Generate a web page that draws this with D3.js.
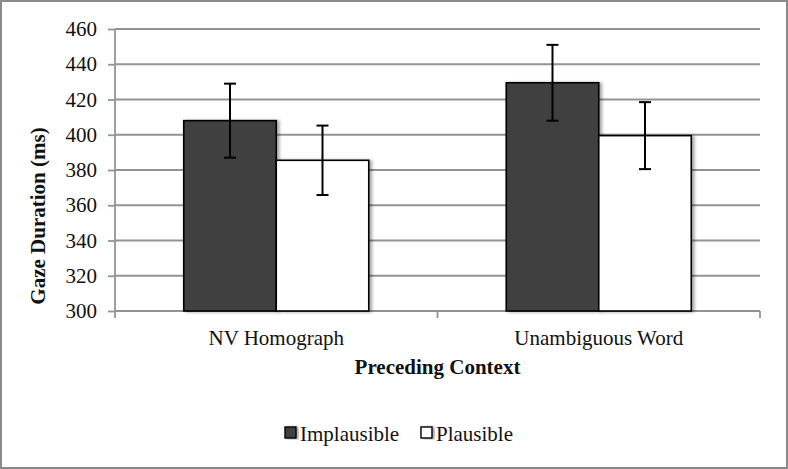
<!DOCTYPE html>
<html>
<head>
<meta charset="utf-8">
<script src="https://cdn.jsdelivr.net/npm/d3@7"></script>
<style>
  body { margin: 0; background: #fff; }
  svg { display: block; font-family: "Liberation Serif", "Times New Roman", serif; }
</style>
</head>
<body>
<svg id="chart" width="788" height="469"></svg>
<script>
let categories = ["NV Homograph", "Unambiguous Word"];
let series = ["Implausible", "Plausible"];
let implausible = [408, 429.5];
let plausible = [385.5, 399.5];
let implausibleErr = [21, 21.5];
let plausibleErr = [19.7, 19];
let yTicks = [300, 320, 340, 360, 380, 400, 420, 440, 460];

let colors = { Implausible: "#404040", Plausible: "#ffffff" };
let values = { Implausible: implausible, Plausible: plausible };
let errors = { Implausible: implausibleErr, Plausible: plausibleErr };

let plotLeft = 115, plotRight = 760, plotTop = 29, plotBottom = 311;

let svg = d3.select('#chart');

// outer frame
svg.append('rect')
    .attr('x', 1).attr('y', 1).attr('width', 786).attr('height', 467)
    .attr('fill', '#fff').attr('stroke', '#8a8a8a').attr('stroke-width', 2);

let defs = svg.append('defs');
defs.append('filter').attr('id', 'shadow')
    .attr('x', '-10%').attr('y', '-10%').attr('width', '130%').attr('height', '120%')
    .append('feDropShadow')
    .attr('dx', 2.5).attr('dy', 0.5).attr('stdDeviation', 1.5)
    .attr('flood-color', '#000').attr('flood-opacity', 0.35);

let y = d3.scaleLinear().domain([300, 460]).range([plotBottom, plotTop]);
let x0 = d3.scaleBand().domain(categories).range([plotLeft, plotRight]).padding(0);
let x1 = d3.scaleBand().domain(series).range([0, x0.bandwidth()])
    .paddingInner(0).paddingOuter(0.743);

// gridlines
svg.append('g').selectAll('line')
    .data(yTicks.slice(1))
    .enter().append('line')
    .attr('x1', plotLeft).attr('x2', plotRight)
    .attr('y1', d => y(d)).attr('y2', d => y(d))
    .attr('stroke', '#939393').attr('stroke-width', 1.8);

// y axis
let yAxis = svg.append('g')
    .attr('transform', `translate(${plotLeft},0)`)
    .call(d3.axisLeft(y).tickValues(yTicks).tickSize(7).tickPadding(11));
yAxis.attr('font-family', null);
yAxis.select('.domain').attr('stroke', '#939393').attr('stroke-width', 1.8).attr('d', `M0,${plotTop}V${plotBottom}`);
yAxis.selectAll('.tick line').attr('stroke', '#939393').attr('stroke-width', 1.8);
yAxis.selectAll('.tick text')
    .attr('fill', '#111').style('font-size', '21px')
    .style('font-family', '"Liberation Serif", "Times New Roman", serif');

// x axis
let xAxisG = svg.append('g');
xAxisG.append('line')
    .attr('x1', plotLeft).attr('x2', plotRight).attr('y1', plotBottom).attr('y2', plotBottom)
    .attr('stroke', '#939393').attr('stroke-width', 1.8);
xAxisG.selectAll('line.tk')
    .data([plotLeft].concat(categories.map(c => x0(c) + x0.bandwidth())))
    .enter().append('line')
    .attr('class', 'tk')
    .attr('x1', d => d).attr('x2', d => d)
    .attr('y1', plotBottom).attr('y2', plotBottom + 7)
    .attr('stroke', '#939393').attr('stroke-width', 1.8);
xAxisG.selectAll('text')
    .data(categories)
    .enter().append('text')
    .attr('x', d => x0(d) + x0.bandwidth() / 2)
    .attr('y', 345)
    .attr('text-anchor', 'middle')
    .attr('fill', '#111')
    .style('font-size', '21px')
    .text(d => d);

// bars
let groups = svg.append('g').selectAll('g')
    .data(categories)
    .enter().append('g')
    .attr('transform', d => `translate(${x0(d)},0)`);

groups.selectAll('rect')
    .data((d, i) => series.map(s => ({ s: s, v: values[s][i], e: errors[s][i] })))
    .enter().append('rect')
    .attr('x', d => x1(d.s))
    .attr('y', d => y(d.v))
    .attr('width', x1.bandwidth())
    .attr('height', d => plotBottom - y(d.v))
    .attr('fill', d => colors[d.s])
    .attr('stroke', '#000')
    .attr('stroke-width', 1.6)
    .attr('filter', 'url(#shadow)');

// error bars
let err = groups.selectAll('g.err')
    .data((d, i) => series.map(s => ({ s: s, v: values[s][i], e: errors[s][i] })))
    .enter().append('g')
    .attr('class', 'err')
    .attr('stroke', '#000')
    .attr('stroke-width', 2);
err.append('line')
    .attr('x1', d => x1(d.s) + x1.bandwidth() / 2)
    .attr('x2', d => x1(d.s) + x1.bandwidth() / 2)
    .attr('y1', d => y(d.v + d.e))
    .attr('y2', d => y(d.v - d.e));
[1, -1].forEach(sign => {
    err.append('line')
        .attr('x1', d => x1(d.s) + x1.bandwidth() / 2 - 6)
        .attr('x2', d => x1(d.s) + x1.bandwidth() / 2 + 6)
        .attr('y1', d => y(d.v + sign * d.e))
        .attr('y2', d => y(d.v + sign * d.e));
});

// axis titles
svg.append('text')
    .attr('transform', `translate(45,216) rotate(-90)`)
    .attr('text-anchor', 'middle')
    .attr('font-weight', 'bold')
    .attr('fill', '#111')
    .style('font-size', '21px')
    .text('Gaze Duration (ms)');

svg.append('text')
    .attr('x', (plotLeft + plotRight) / 2)
    .attr('y', 374)
    .attr('text-anchor', 'middle')
    .attr('font-weight', 'bold')
    .attr('fill', '#111')
    .style('font-size', '21px')
    .text('Preceding Context');

// legend
let legendX = [285, 421];
let legend = svg.append('g').selectAll('g')
    .data(series)
    .enter().append('g')
    .attr('transform', (d, i) => `translate(${legendX[i]},427)`);
legend.append('rect')
    .attr('width', 11).attr('height', 11)
    .attr('fill', d => colors[d])
    .attr('stroke', '#000').attr('stroke-width', 1.4)
    .attr('filter', 'url(#shadow)');
legend.append('text')
    .attr('x', 15).attr('y', 14)
    .attr('fill', '#111')
    .style('font-size', '21px')
    .text(d => d);
</script>
</body>
</html>
